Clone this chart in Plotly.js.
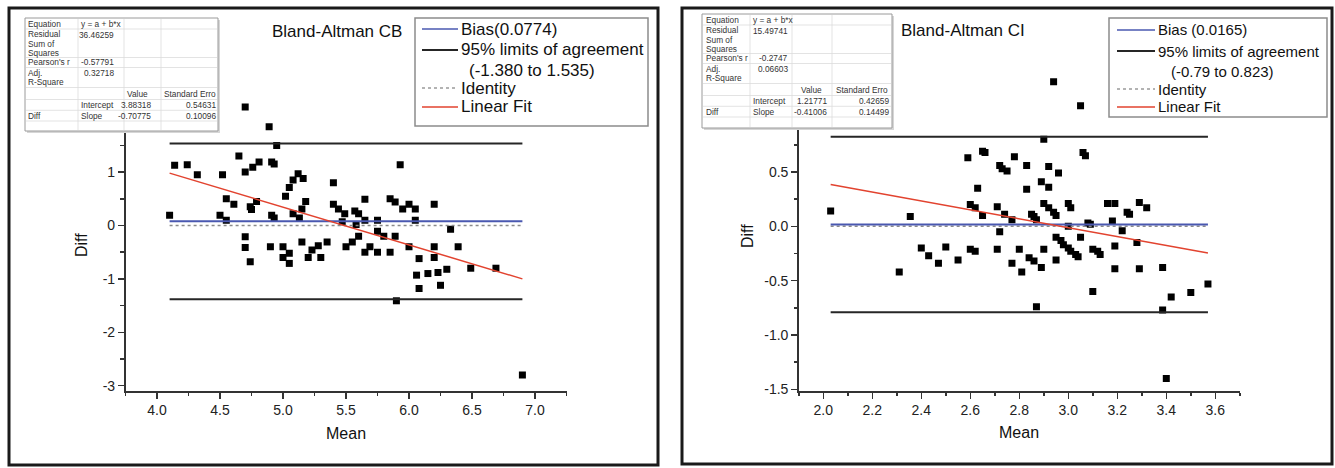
<!DOCTYPE html>
<html><head><meta charset="utf-8">
<script src="https://cdn.plot.ly/plotly-3.0.1.min.js"></script>
<style>html,body{margin:0;padding:0;background:#fff;overflow:hidden}</style>
</head><body><div id="chart" style="width:1335px;height:468px"></div>
<script>
// ---------------- DATA ----------------
const cbMean = [4.10,4.14,4.24,4.32,4.52,4.50,4.55,4.55,4.61,4.65,
  4.70,4.70,4.76,4.81,4.70,4.70,4.74,4.74,4.75,4.79,
  4.89,4.91,4.93,4.95,4.90,4.91,4.93,5.00,5.00,5.05,
  5.05,5.02,5.05,5.08,5.12,5.16,5.08,5.13,5.15,5.18,
  5.15,5.20,5.23,5.28,5.30,5.35,5.40,5.40,5.44,5.49,
  5.47,5.50,5.55,5.57,5.60,5.58,5.60,5.65,5.65,5.65,
  5.69,5.75,5.75,5.75,5.80,5.85,5.85,5.89,5.89,5.90,
  5.93,5.95,6.00,6.00,6.05,6.05,6.06,6.08,6.08,6.15,
  6.20,6.20,6.20,6.23,6.25,6.30,6.33,6.39,6.49,6.69,
  6.90];
const cbDiff = [0.19,1.13,1.14,0.95,0.95,0.19,0.10,0.50,0.40,1.30,
  2.22,1.00,1.09,1.19,-0.21,-0.41,-0.68,0.35,0.30,0.45,
  1.85,1.19,1.15,1.50,-0.40,0.19,0.14,-0.40,-0.60,-0.52,
  -0.71,0.55,0.71,0.85,0.97,0.88,0.22,0.14,0.31,0.45,
  -0.31,-0.60,-0.46,-0.38,-0.60,-0.31,0.80,0.40,0.31,0.22,
  0.07,-0.40,-0.31,0.27,0.22,0.02,-0.20,0.49,0.10,-0.50,
  -0.40,0.10,-0.11,-0.50,-0.20,0.50,-0.50,-0.20,0.44,-1.41,
  1.14,0.31,0.40,-0.40,0.31,0.10,-0.93,-0.62,-1.18,-0.90,
  0.40,-0.40,-0.60,-0.88,-1.12,-0.82,-0.07,-0.40,-0.80,-0.80,
  -2.80];
const cbBias = 0.0774;
const cbLimits = [-1.380, 1.535];
const cbFit = [3.88318, -0.70775];           // intercept, slope
const cbStats = ["36.46259", "-0.57791", "0.32718"];
const cbCoef = ["3.88318", "0.54631", "-0.70775", "0.10096"];
const cbLegend = ["Bias(0.0774)", "95% limits of agreement", "(-1.380 to 1.535)", "Identity", "Linear Fit"];
const cbXTicks = [4.0, 4.5, 5.0, 5.5, 6.0, 6.5, 7.0];
const cbXLabels = ["4.0", "4.5", "5.0", "5.5", "6.0", "6.5", "7.0"];
const cbYTicks = [-3, -2, -1, 0, 1];
const cbYLabels = ["-3", "-2", "-1", "0", "1"];

const ciMean = [2.03,2.31,2.355,2.40,2.43,2.47,2.50,2.55,2.59,2.60,
  2.62,2.63,2.60,2.62,2.65,2.66,2.65,2.71,2.71,2.72,
  2.73,2.75,2.72,2.74,2.77,2.77,2.78,2.80,2.81,2.83,
  2.83,2.85,2.86,2.87,2.84,2.86,2.89,2.90,2.89,2.92,
  2.90,2.92,2.94,2.95,2.90,2.95,2.92,2.96,2.94,3.05,
  2.95,2.97,2.98,3.00,3.01,3.03,3.04,3.00,3.00,3.01,
  3.05,3.06,3.07,3.08,3.09,3.10,3.12,3.13,3.16,3.18,
  3.19,3.19,3.19,3.22,3.24,3.25,3.28,3.29,3.32,3.29,
  3.385,3.10,2.87,3.385,3.40,3.42,3.50,3.57];
const ciDiff = [0.14,-0.42,0.09,-0.20,-0.27,-0.34,-0.19,-0.31,0.63,0.20,
  0.17,0.35,-0.21,-0.23,0.69,0.68,0.10,-0.21,0.18,0.56,
  0.53,0.51,-0.05,0.11,0.06,-0.34,0.64,-0.21,-0.42,0.56,
  0.34,0.11,0.09,0.06,-0.29,-0.32,-0.38,0.80,0.41,0.36,
  0.21,0.17,0.13,0.10,-0.21,-0.31,0.55,0.49,1.33,1.11,
  -0.10,-0.13,-0.17,-0.20,-0.23,-0.26,-0.28,0.00,0.21,0.17,
  -0.10,0.68,0.65,0.03,0.02,-0.21,-0.23,-0.26,0.21,0.05,
  0.21,-0.18,-0.39,-0.04,0.13,0.11,-0.15,0.22,0.17,-0.39,
  -0.38,-0.60,-0.74,-0.77,-1.40,-0.65,-0.61,-0.53];
const ciBias = 0.0165;
const ciLimits = [-0.79, 0.823];
const ciFit = [1.21771, -0.41006];
const ciStats = ["15.49741", "-0.2747", "0.06603"];
const ciCoef = ["1.21771", "0.42659", "-0.41006", "0.14499"];
const ciLegend = ["Bias (0.0165)", "95% limits of agreement", "(-0.79 to 0.823)", "Identity", "Linear Fit"];
const ciXTicks = [2.0, 2.2, 2.4, 2.6, 2.8, 3.0, 3.2, 3.4, 3.6];
const ciXLabels = ["2.0", "2.2", "2.4", "2.6", "2.8", "3.0", "3.2", "3.4", "3.6"];
const ciYTicks = [-1.5, -1.0, -0.5, 0.0, 0.5];
const ciYLabels = ["-1.5", "-1.0", "-0.5", "0.0", "0.5"];

const tableRowLabels = ["Equation", "Residual", "Sum of", "Squares", "Pearson's r", "Adj.", "R-Square"];
const tableEquation = "y = a + b*x";
const tableHeaders = ["Value", "Standard Erro"];
const tableParams = ["Intercept", "Slope"];
const tableDep = "Diff";
const panelTitles = ["Bland-Altman CB", "Bland-Altman CI"];
const axisTitles = ["Mean", "Diff"];

// ---------------- BUILD ----------------
const W = 1335, H = 468;
const FONT = "Liberation Sans, Arial, Helvetica, sans-serif";
const px = v => v / W;
const py = v => 1 - v / H;

const C_BIAS = "#4a58b0", C_LOA = "#262626", C_ID = "#8a8a8a", C_FIT = "#e2432f";

function panelTraces(mean, diff, bias, lim, fit, xa, ya) {
  const x0 = Math.min(...mean), x1 = Math.max(...mean);
  const seg = [x0, x1];
  return [
    {x: mean, y: diff, xaxis: xa, yaxis: ya, type: "scatter", mode: "markers",
     marker: {symbol: "square", size: 7, color: "#000"}, showlegend: false},
    {x: seg, y: [lim[1], lim[1]], xaxis: xa, yaxis: ya, mode: "lines", line: {color: C_LOA, width: 2}, showlegend: false},
    {x: seg, y: [lim[0], lim[0]], xaxis: xa, yaxis: ya, mode: "lines", line: {color: C_LOA, width: 2}, showlegend: false},
    {x: seg, y: [0, 0], xaxis: xa, yaxis: ya, mode: "lines", line: {color: C_ID, width: 1.5, dash: "dot"}, showlegend: false},
    {x: seg, y: [bias, bias], xaxis: xa, yaxis: ya, mode: "lines", line: {color: C_BIAS, width: 2}, showlegend: false},
    {x: seg, y: seg.map(v => fit[0] + fit[1] * v), xaxis: xa, yaxis: ya, mode: "lines", line: {color: C_FIT, width: 1.5}, showlegend: false}
  ];
}

const traces = [
  ...panelTraces(cbMean, cbDiff, cbBias, cbLimits, cbFit, "x", "y"),
  ...panelTraces(ciMean, ciDiff, ciBias, ciLimits, ciFit, "x2", "y2")
];

function axis(domain, range, tv, tt, minor0, minorD) {
  return {
    domain: domain, range: range, showgrid: false, zeroline: false,
    showline: true, linecolor: "#333", linewidth: 1.6,
    ticks: "outside", ticklen: 6, tickwidth: 1.5, tickcolor: "#333",
    tickmode: "array", tickvals: tv, ticktext: tt,
    tickfont: {family: FONT, size: 14, color: "#222"},
    minor: {tickmode: "linear", tick0: minor0, dtick: minorD, ticks: "outside", ticklen: 3.5, tickwidth: 1.5, tickcolor: "#333"},
    fixedrange: true
  };
}

const yTop = 60, yBot = 391;
const layout = {
  width: W, height: H, margin: {l: 0, r: 0, t: 0, b: 0},
  paper_bgcolor: "#fff", plot_bgcolor: "rgba(0,0,0,0)", showlegend: false, hovermode: false,
  xaxis: axis([px(125.5), px(566.5)], [3.75, 7.25], cbXTicks, cbXLabels, 3.75, 0.5),
  yaxis: axis([py(yBot), py(yTop)], [-3.1, 3.1], cbYTicks, cbYLabels, -2.5, 1),
  xaxis2: axis([px(798.8), px(1239.8)], [1.9, 3.7], ciXTicks, ciXLabels, 1.9, 0.2),
  yaxis2: axis([py(yBot), py(yTop)], [-1.515, 1.53], ciYTicks, ciYLabels, -1.25, 0.5),
  shapes: [], annotations: []
};
layout.xaxis.anchor = "y"; layout.yaxis.anchor = "x";
layout.xaxis2.anchor = "y2"; layout.yaxis2.anchor = "x2";

const S = layout.shapes, A = layout.annotations;
function rect(x0, y0, x1, y1, lc, lw, fill, layer) {
  S.push({type: "rect", xref: "paper", yref: "paper", x0: px(x0), x1: px(x1), y0: py(y1), y1: py(y0),
    line: {color: lc, width: lw}, fillcolor: fill, layer: layer || "above"});
}
function hline(x0, x1, y, color, width, dash) {
  S.push({type: "line", xref: "paper", yref: "paper", x0: px(x0), x1: px(x1), y0: py(y), y1: py(y),
    line: {color: color, width: width, dash: dash || "solid"}, layer: "above"});
}
function vline(x, y0, y1, color, width) {
  S.push({type: "line", xref: "paper", yref: "paper", x0: px(x), x1: px(x), y0: py(y0), y1: py(y1),
    line: {color: color, width: width}, layer: "above"});
}
function text(x, y, t, size, anchor, extra) {
  A.push(Object.assign({xref: "paper", yref: "paper", x: px(x), y: py(y), text: t, showarrow: false,
    xanchor: anchor || "left", yanchor: "middle", borderpad: 0,
    font: {family: FONT, size: size, color: "#111"}}, extra || {}));
}

// panel frames
rect(9, 8, 658, 465, "#1a1a1a", 3, "rgba(0,0,0,0)", "below");
rect(682, 8, 1332, 464, "#1a1a1a", 3, "rgba(0,0,0,0)", "below");

// results tables
function table(x0, y0, w, h, cols, stats, coef) {
  const rows = [6.2, 16.2, 25.8, 34.8, 44.3, 54.8, 64.2, 76, 87, 97.5];
  rect(x0 + 2, y0 + 2, x0 + w + 2, y0 + h + 2, "rgba(0,0,0,0)", 0, "#d6d6d6");
  rect(x0, y0, x0 + w, y0 + h, "#9a9a9a", 1, "#fff");
  const lc = "#dcdcdc";
  [11, 39.5, 49.5, 69.5, 81.5, 92.3, 103].forEach(r => hline(x0 + 1, x0 + w - 1, y0 + r, lc, 0.8));
  cols.lines.forEach(c => vline(x0 + c, y0 + 1, y0 + h - 1, lc, 0.8));
  const fs = 8.3;
  const ts = (x, y, t, anc) => text(x0 + x, y0 + y, t, fs, anc, {font: {family: FONT, size: fs, color: "#333"}});
  tableRowLabels.forEach((t, i) => ts(cols.c1, rows[i], t, "left"));
  ts(cols.c2, rows[0], tableEquation, "left");
  ts(cols.c2r, rows[1] + 1, stats[0], "right");
  ts(cols.c2r, rows[4], stats[1], "right");
  ts(cols.c2r, rows[5], stats[2], "right");
  ts(cols.c3, rows[7], tableHeaders[0], "left");
  ts(cols.c4, rows[7], tableHeaders[1], "left");
  ts(cols.c2, rows[8], tableParams[0], "left");
  ts(cols.c2, rows[9], tableParams[1], "left");
  ts(cols.c1, rows[9], tableDep, "left");
  ts(cols.c3r, rows[8], coef[0], "right");
  ts(cols.c4r, rows[8], coef[1], "right");
  ts(cols.c3r, rows[9], coef[2], "right");
  ts(cols.c4r, rows[9], coef[3], "right");
}
table(25, 18, 193, 113, {c1: 2, c2: 55, c2r: 90, c3: 101, c3r: 126.7, c4: 138.3, c4r: 191.5, lines: [53, 99, 136]}, cbStats, cbCoef);
table(702, 14, 190, 114, {c1: 3, c2: 49.7, c2r: 87, c3: 98, c3r: 126.3, c4: 133, c4r: 187.5, lines: [48, 90, 130]}, ciStats, ciCoef);

// legends
function legend(x0, y0, x1, y1, sx0, sx1, tx, tx2, ys, labels, size) {
  rect(x0, y0, x1, y1, "#8c8c8c", 1.5, "#fff");
  const sty = [[C_BIAS, "solid", 1.5], [C_LOA, "solid", 1.8], null, ["#9a9a9a", "dot", 1.3], [C_FIT, "solid", 1.5]];
  labels.forEach((t, i) => {
    if (sty[i]) hline(sx0, sx1, ys[i], sty[i][0], sty[i][2], sty[i][1]);
    text(i === 2 ? tx2 : tx, ys[i], t, size, "left");
  });
}
legend(415, 18, 648, 126, 422, 458, 460, 468, [29, 50, 70, 88, 107], cbLegend, 17);
legend(1109, 18, 1327, 117, 1117, 1155, 1157, 1170, [30, 51, 71, 89, 107], ciLegend, 15);

// titles
text(403, 31.5, panelTitles[0], 17, "right");
text(900, 31, panelTitles[1], 17, "left");

// axis titles
text(346, 433, axisTitles[0], 16, "center");
text(1019, 432, axisTitles[0], 16, "center");
text(81, 245, axisTitles[1], 16, "center", {textangle: -90});
text(747, 236, axisTitles[1], 16, "center", {textangle: -90});

Plotly.newPlot("chart", traces, layout, {staticPlot: true, displayModeBar: false});
</script>
</body></html>
